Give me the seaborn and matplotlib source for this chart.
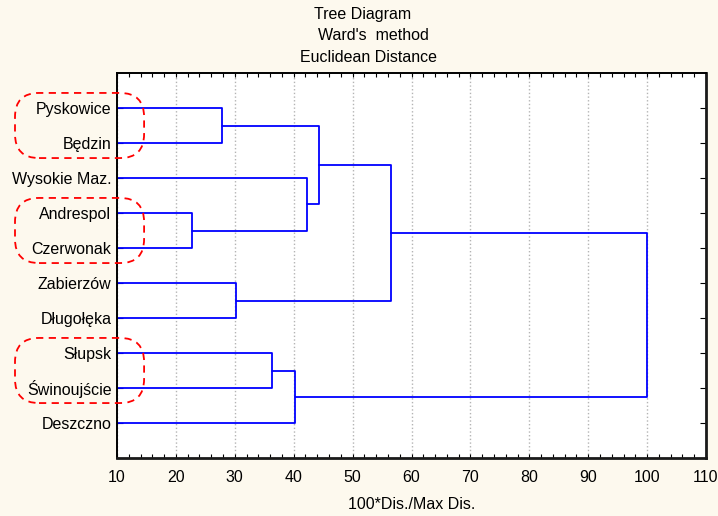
import numpy as np
import pandas as pd
import matplotlib
matplotlib.use("Agg")
import matplotlib.pyplot as plt
import seaborn as sns
from matplotlib.patches import FancyBboxPatch
from matplotlib.transforms import IdentityTransform


# leaves, top to bottom
LEAVES = [
    "Pyskowice",
    "Będzin",
    "Wysokie Maz.",
    "Andrespol",
    "Czerwonak",
    "Zabierzów",
    "Długołęka",
    "Słupsk",
    "Świnoujście",
    "Deszczno",
]

# merges: (left child, right child) by cluster id, ids 0-9 are the leaves
MERGE_LEFT = [3, 0, 5, 7, 13, 2, 11, 16, 17]
MERGE_RIGHT = [4, 1, 6, 8, 9, 10, 15, 12, 14]
MERGE_HEIGHT = [22.7, 27.8, 30.2, 36.3, 40.2, 42.3, 44.3, 56.5, 100.0]

X_TICKS = [10, 20, 30, 40, 50, 60, 70, 80, 90, 100, 110]

# leaf pairs that get the red dashed outline
HIGHLIGHT_PAIRS = [(0, 1), (3, 4), (7, 8)]

BG = "#fdf9ee"
FONT = ["Liberation Sans", "DejaVu Sans"]
FS = 11.5


def dendrogram_segments():
    pos = {i: float(i + 1) for i in range(len(LEAVES))}
    height = {i: 0.0 for i in range(len(LEAVES))}
    rows = []
    for k, (a, b, h) in enumerate(zip(MERGE_LEFT, MERGE_RIGHT, MERGE_HEIGHT)):
        cid = len(LEAVES) + k
        xs = [height[a], h, h, height[b]]
        ys = [pos[a], pos[a], pos[b], pos[b]]
        for order, (x, y) in enumerate(zip(xs, ys)):
            rows.append({"seg": k, "order": order, "dist": x, "leaf": y})
        pos[cid] = (pos[a] + pos[b]) / 2
        height[cid] = h
    return pd.DataFrame(rows)


def main():
    sns.set_style("white")
    plt.rcParams["font.family"] = FONT
    plt.rcParams.update({"text.color": "black", "axes.labelcolor": "black",
                         "xtick.color": "black", "ytick.color": "black"})

    fig = plt.figure(figsize=(7.18, 5.16), dpi=100, facecolor=BG)
    W, H = 718, 516
    left, right, top, bottom = 117, 706, 73, 458
    ax = fig.add_axes([left / W, 1 - bottom / H, (right - left) / W, (bottom - top) / H])
    ax.set_facecolor("white")

    seg = dendrogram_segments()
    sns.lineplot(data=seg, x="dist", y="leaf", units="seg", estimator=None,
                 sort=False, color="#0000ff", linewidth=1.3, ax=ax)

    ax.set_xlim(10, 110)
    ax.set_ylim(len(LEAVES) + 1, 0)
    ax.set_xticks(X_TICKS)
    ax.set_xticks(np.arange(10, 111, 2), minor=True)
    ax.set_yticks(np.arange(1, len(LEAVES) + 1))
    ax.set_yticklabels(LEAVES)

    ax.tick_params(axis="x", which="both", direction="in", top=True, bottom=True,
                   length=3, width=0.8, labelsize=FS, pad=9, colors="black")
    ax.tick_params(axis="y", direction="in", left=True, right=True,
                   length=4, width=0.8, labelsize=FS, pad=4, colors="black")
    ax.xaxis.grid(True, which="major", color="#b4b4b4", linestyle=":", linewidth=1.0)
    ax.yaxis.grid(False)

    for side in ["top", "left"]:
        ax.spines[side].set_linewidth(1.4)
        ax.spines[side].set_color("black")
    for side in ["bottom", "right"]:
        ax.spines[side].set_linewidth(2.0)
        ax.spines[side].set_color("#1a1a1a")

    ax.set_xlabel("100*Dis./Max Dis.", fontsize=FS, labelpad=8, color="black")
    ax.set_ylabel("")

    fig.text(363 / W, 1 - 14 / H, "Tree Diagram", ha="center", va="center", fontsize=FS)
    fig.text(373 / W, 1 - 36 / H, "Ward's  method", ha="center", va="center", fontsize=FS)
    fig.text(368 / W, 1 - 57 / H, "Euclidean Distance", ha="center", va="center", fontsize=FS)

    # red dashed rounded outlines around the highlighted pairs (display pixels)
    for i, j in HIGHLIGHT_PAIRS:
        x0 = 15
        x1 = ax.transData.transform((14.6, 0))[0]
        y_top = ax.transData.transform((10, i + 1 - 0.43))[1]
        y_bot = ax.transData.transform((10, j + 1 + 0.43))[1]
        box = FancyBboxPatch((x0, y_bot), x1 - x0, y_top - y_bot,
                             boxstyle="round,pad=0,rounding_size=24",
                             transform=IdentityTransform(), fill=False,
                             edgecolor="#ff0000", linestyle=(0, (4, 3)),
                             linewidth=1.3, zorder=10)
        fig.patches.append(box)
        box.set_figure(fig)

    fig.savefig("out.png", dpi=100, facecolor=BG)
    plt.close(fig)


if __name__ == "__main__":
    main()
